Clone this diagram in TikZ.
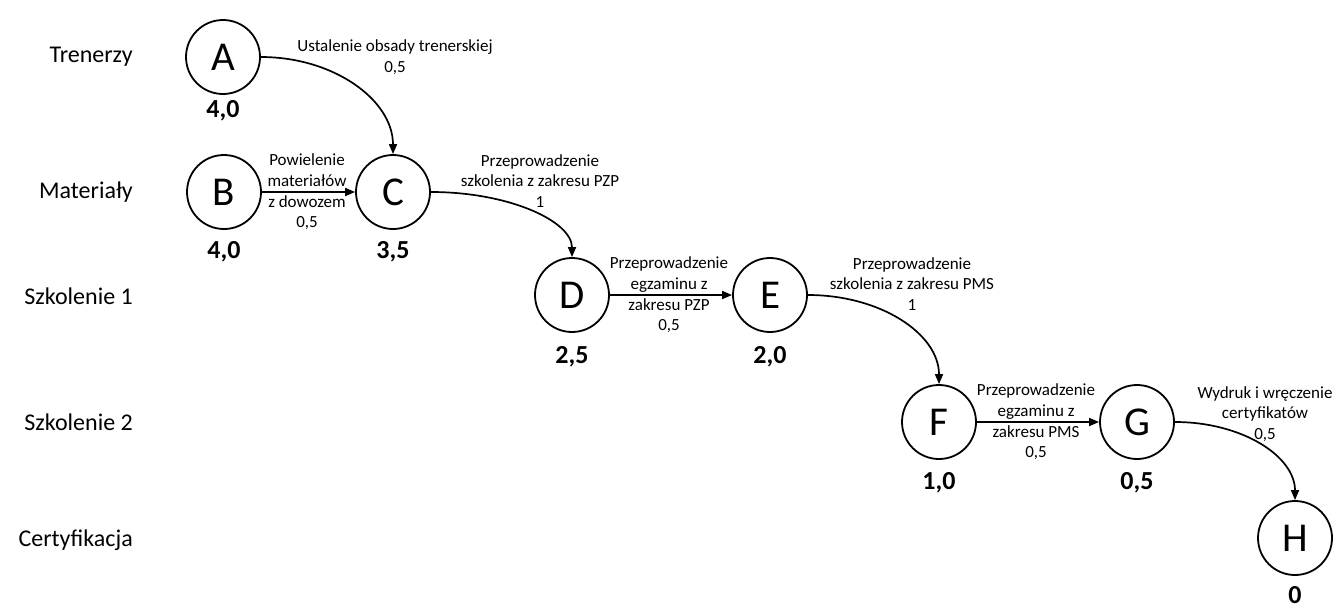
\documentclass[tikz,border=0pt]{standalone}
\usepackage{fontspec}
\setmainfont{Carlito}
\usetikzlibrary{arrows.meta,calc}
\begin{document}
\begin{tikzpicture}[x=1pt,y=1pt,
  event/.style={circle,draw,line width=1.8pt,minimum size=74pt,inner sep=0pt,
    font=\fontsize{41}{48}\selectfont},
  slack/.style={inner sep=0pt,font=\fontsize{26}{31}\selectfont\bfseries},
  lane/.style={anchor=east,inner sep=0pt,font=\fontsize{24}{29}\selectfont},
  task/.style={align=center,inner sep=0pt,font=\fontsize{17}{20.7}\selectfont},
  flow/.style={line width=1.7pt,-{Triangle[length=10pt,width=8pt]}}]
\fill[white] (0,0) rectangle (1337,-608);
\useasboundingbox (0,0) rectangle (1337,-608);

% swim-lane titles
\node[lane] (t1) at (133,-57)  {Trenerzy};
\node[lane] (t2) at (133,-192) {Materiały};
\node[lane] (t3) at (133,-296) {Szkolenie 1};
\node[lane] (t4) at (133,-422) {Szkolenie 2};
\node[lane] (t5) at (133,-540) {Certyfikacja};

% events
\node[event] (A) at (223,-57)   {A};
\node[event] (B) at (224,-192)  {B};
\node[event] (C) at (393,-192)  {C};
\node[event] (D) at (572,-295)  {D};
\node[event] (E) at (770,-295)  {E};
\node[event] (F) at (939,-422)  {F};
\node[event] (G) at (1137,-422) {G};
\node[event] (H) at (1295,-538) {H};

% time values under the events
\node[slack] (nA) at ($(A)+(0,-54)$) {4,0};
\node[slack] (nB) at ($(B)+(0,-60)$) {4,0};
\node[slack] (nC) at ($(C)+(0,-60)$) {3,5};
\node[slack] (nD) at ($(D)+(0,-62)$) {2,5};
\node[slack] (nE) at ($(E)+(0,-62)$) {2,0};
\node[slack] (nF) at ($(F)+(0,-61)$) {1,0};
\node[slack] (nG) at ($(G)+(0,-61)$) {0,5};
\node[slack] (nH) at ($(H)+(0,-57)$) {0};

% activities
\draw[flow] (A.east) .. controls +(73,0) and +(0,54) .. (C.north);
\draw[flow] (B) -- (C);
\draw[flow] (C.east) .. controls +(78,0) and +(0,36) .. (D.north);
\draw[flow] (D) -- (E);
\draw[flow] (E.east) .. controls +(73,0) and +(0,50) .. (F.north);
\draw[flow] (F) -- (G);
\draw[flow] (G.east) .. controls +(67,0) and +(0,44) .. (H.north);

% activity names and durations
\node[task] (lAC) at (395,-57)   {Ustalenie obsady trenerskiej\\0,5};
\node[task] (lBC) at (307,-192)  {Powielenie\\materiałów\\z dowozem\\0,5};
\node[task] (lCD) at (540,-181)  {Przeprowadzenie\\szkolenia z zakresu PZP\\1};
\node[task] (lDE) at (669,-295)  {Przeprowadzenie\\egzaminu z\\zakresu PZP\\0,5};
\node[task] (lEF) at (912,-284)  {Przeprowadzenie\\szkolenia z zakresu PMS\\1};
\node[task] (lFG) at (1036,-422) {Przeprowadzenie\\egzaminu z\\zakresu PMS\\0,5};
\node[task] (lGH) at (1265,-414) {Wydruk i wręczenie\\certyfikatów\\0,5};
\end{tikzpicture}
\end{document}
